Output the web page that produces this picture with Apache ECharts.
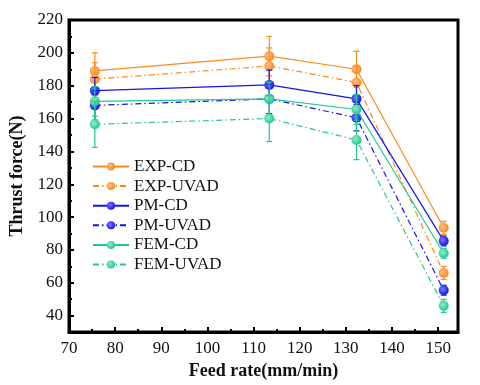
<!DOCTYPE html>
<html>
<head>
<meta charset="utf-8">
<script src="https://cdn.jsdelivr.net/npm/echarts@6/dist/echarts.min.js"></script>
<style>html,body{margin:0;padding:0;background:#fff}#c{width:480px;height:385px}</style>
</head>
<body>
<div id="c"></div>
<script>
var feedRates = [75.6, 113.4, 132.3, 151.2];
var names = ['EXP-CD','EXP-UVAD','PM-CD','PM-UVAD','FEM-CD','FEM-UVAD'];
var expCD   = [189, 198, 190, 93.5];
var expUVAD = [184, 192, 182, 66];
var pmCD    = [177, 180.5, 172, 85.5];
var pmUVAD  = [168, 172, 160.5, 55.5];
var femCD   = [170.5, 172, 165.5, 78];
var femUVAD = [156.5, 160, 147, 46];
var errExpCD   = [11, 12, 11, 4];
var errExpUVAD = [10, 11, 10, 4];
var errPmCD    = [8, 9, 8, 3];
var errPmUVAD  = [9, 9, 8, 3];
var errFemCD   = [9, 10, 9, 3];
var errFemUVAD = [14, 14, 12, 4];
var xTicks = [70, 80, 90, 100, 110, 120, 130, 140, 150];
var yTicks = [40, 60, 80, 100, 120, 140, 160, 180, 200, 220];
var yMinorTicks = [50, 70, 90, 110, 130, 150, 170, 190, 210];

var values = [expCD, expUVAD, pmCD, pmUVAD, femCD, femUVAD];
var errs = [errExpCD, errExpUVAD, errPmCD, errPmUVAD, errFemCD, errFemUVAD];
var colors = ['#ff8a1c','#ff8a1c','#1414f0','#1414f0','#22c991','#22c991'];
var lights = ['#ffc08a','#ffc08a','#7a7aff','#7a7aff','#90ecc8','#90ecc8'];
var dashDot = [6, 3, 1.5, 3];
var serif = '"Liberation Serif","DejaVu Serif",serif';

var series = [];
names.forEach(function (n, i) {
  var col = colors[i];
  series.push({
    name: n + ' error', type: 'custom', z: 2 + i,
    silent: true,
    renderItem: function (params, api) {
      var x = api.value(0), lo = api.value(1), hi = api.value(2);
      var p1 = api.coord([x, lo]), p2 = api.coord([x, hi]);
      var w = 3;
      var st = {stroke: col, lineWidth: 1.2};
      return {type: 'group', children: [
        {type: 'line', shape: {x1: p1[0], y1: p1[1], x2: p2[0], y2: p2[1]}, style: st},
        {type: 'line', shape: {x1: p1[0]-w, y1: p1[1], x2: p1[0]+w, y2: p1[1]}, style: st},
        {type: 'line', shape: {x1: p2[0]-w, y1: p2[1], x2: p2[0]+w, y2: p2[1]}, style: st}
      ]};
    },
    data: feedRates.map(function (x, k) { return [x, values[i][k] - errs[i][k], values[i][k] + errs[i][k]]; })
  });
  series.push({
    name: n, type: 'line', z: 2 + i,
    symbol: 'circle', symbolSize: 10,
    data: feedRates.map(function (x, k) { return [x, values[i][k]]; }),
    lineStyle: {color: col, width: 1.2, type: (i % 2 === 1) ? dashDot : 'solid'},
    itemStyle: {color: {type: 'radial', x: 0.4, y: 0.4, r: 0.6,
      colorStops: [{offset: 0, color: lights[i]}, {offset: 1, color: col}]}},
    emphasis: {disabled: true}
  });
});

var chart = echarts.init(document.getElementById('c'), null, {renderer: 'canvas'});
chart.setOption({
  animation: false,
  backgroundColor: '#fff',
  grid: {left: 69, right: 22, top: 20, bottom: 51, show: true, borderColor: '#000', borderWidth: 3, backgroundColor: 'transparent'},
  legend: {
    data: names, orient: 'vertical', left: 87, top: 153,
    itemWidth: 36, itemHeight: 10, itemGap: 2.6,
    textStyle: {fontFamily: serif, fontSize: 17, color: '#111'},
    selectedMode: false
  },
  xAxis: {
    type: 'value', min: 70, max: 154.3, interval: 10,
    name: 'Feed rate(mm/min)', nameLocation: 'middle', nameGap: 27,
    nameTextStyle: {fontFamily: serif, fontSize: 18, fontWeight: 'bold', color: '#111'},
    axisLine: {show: true, lineStyle: {color: '#000', width: 3}},
    axisTick: {show: true, inside: true, length: 5, lineStyle: {color: '#000', width: 2}},
    minorTick: {show: true, splitNumber: 2, length: 3, lineStyle: {color: '#000', width: 2}},
    axisLabel: {fontFamily: serif, fontSize: 17, color: '#111', margin: 8,
      formatter: function (v) { return xTicks.indexOf(v) >= 0 ? String(v) : ''; }},
    splitLine: {show: false}
  },
  yAxis: [{
    type: 'value', min: 30, max: 220, interval: 10,
    name: 'Thrust force(N)', nameLocation: 'middle', nameGap: 38,
    nameTextStyle: {fontFamily: serif, fontSize: 18, fontWeight: 'bold', color: '#111'},
    axisLine: {show: true, lineStyle: {color: '#000', width: 3}},
    axisTick: {show: true, inside: true, length: 5, customValues: yTicks, lineStyle: {color: '#000', width: 2}},
    axisLabel: {fontFamily: serif, fontSize: 17, color: '#111', margin: 6, customValues: yTicks},
    splitLine: {show: false}
  }, {
    type: 'value', min: 30, max: 220, interval: 10, position: 'left',
    axisLine: {show: false},
    axisTick: {show: true, inside: true, length: 3, customValues: yMinorTicks, lineStyle: {color: '#000', width: 2}},
    axisLabel: {show: false},
    splitLine: {show: false}
  }],
  series: series
});
</script>
</body>
</html>
